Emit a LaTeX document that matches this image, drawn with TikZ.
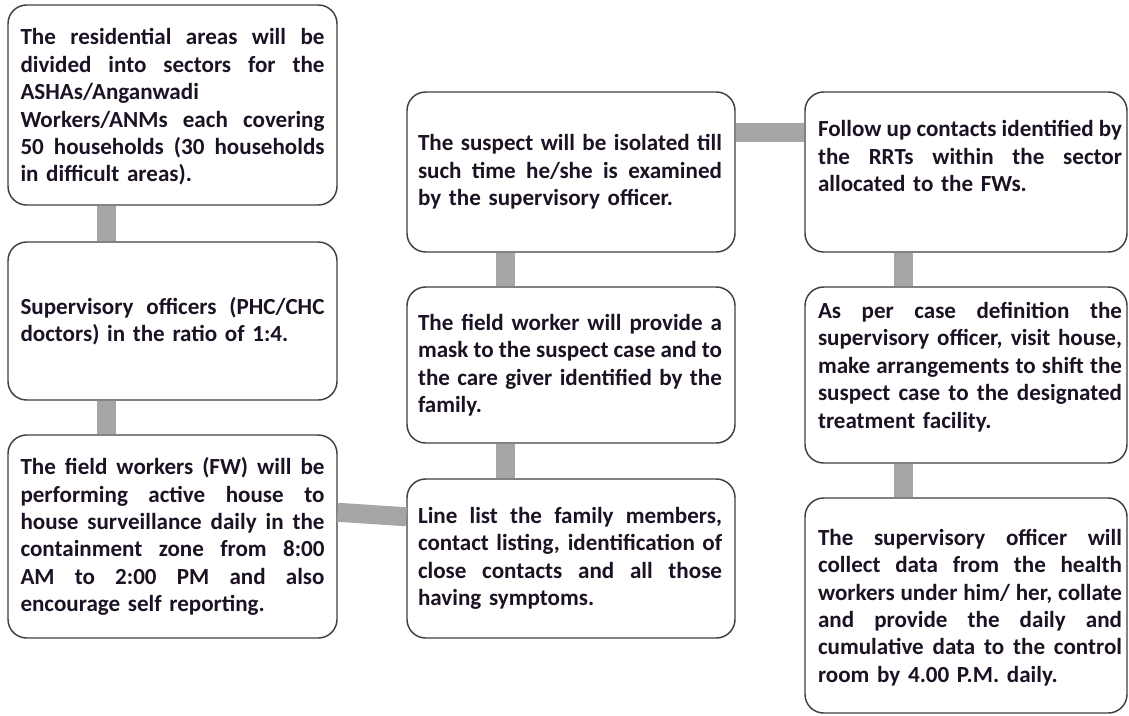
\documentclass[tikz,border=0pt]{standalone}
\usepackage{fontspec}
\setmainfont{Carlito}
\usetikzlibrary{calc}
\definecolor{txt}{RGB}{28,18,36}
\definecolor{edge}{RGB}{64,64,64}
\definecolor{conn}{RGB}{166,166,166}
\newcommand{\J}[1]{\makebox[228pt][s]{\spaceskip=0.226em plus 1fil minus 0.17em\relax #1}}
\tikzset{
  box/.style={draw=edge, line width=1.1pt, rounded corners=14pt, fill=white, inner sep=0pt},
  txtnode/.style={text width=228pt, align=left, inner sep=0pt, text=txt,
    font=\bfseries\fontsize{17.3}{20.55}\selectfont},
  connector/.style={draw=conn, line width=14.25pt}
}
\begin{document}
\begin{tikzpicture}[x=0.75pt,y=-0.75pt]
\useasboundingbox (0,0) rectangle (1129,715);
\fill[white] (0,0) rectangle (1129,715);
% boxes
\node[box, minimum width=246.75pt, minimum height=150pt] (B1) at (172.5,105) {};
\node[box, minimum width=246.75pt, minimum height=118.5pt] (B2) at (172.5,321) {};
\node[box, minimum width=246.75pt, minimum height=152.25pt] (B3) at (172.5,536.5) {};
\node[box, minimum width=246pt, minimum height=120pt] (B4) at (571,172) {};
\node[box, minimum width=246pt, minimum height=117pt] (B5) at (571,365) {};
\node[box, minimum width=246pt, minimum height=119.25pt] (B6) at (571,558.5) {};
\node[box, minimum width=241.5pt, minimum height=120pt] (B7) at (966,172) {};
\node[box, minimum width=241.5pt, minimum height=132pt] (B8) at (966,375) {};
\node[box, minimum width=241.5pt, minimum height=161.25pt] (B9) at (966,605.5) {};
% connectors
\draw[connector] ($(B1.south west)+(99.5,0)$) -- ($(B2.north west)+(99.5,0)$);
\draw[connector] ($(B2.south west)+(99.5,0)$) -- ($(B3.north west)+(99.5,0)$);
\draw[connector] ($(B4.south west)+(99.5,0)$) -- ($(B5.north west)+(99.5,0)$);
\draw[connector] ($(B5.south west)+(99.5,0)$) -- ($(B6.north west)+(99.5,0)$);
\draw[connector] ($(B7.south west)+(99.5,0)$) -- ($(B8.north west)+(99.5,0)$);
\draw[connector] ($(B8.south west)+(99.5,0)$) -- ($(B9.north west)+(99.5,0)$);
\draw[connector] ($(B4.north east)+(0,41.5)$) -- ($(B7.north west)+(0,41.5)$);
\draw[connector] ($(B3.north east)+(0,78)$) -- ($(B6.north west)+(0,38.5)$);
% texts
\node[txtnode] (T1) at ($(B1.center)+(0,2)$) {\J{The residential areas will be}\\\J{divided into sectors for the}\\ASHAs/Anganwadi\\\J{Workers/ANMs each covering}\\\J{50 households (30 households}\\in difficult areas).};
\node[txtnode] (T2) at (B2.center) {\J{Supervisory officers (PHC/CHC}\\doctors) in the ratio of 1:4.};
\node[txtnode] (T3) at (B3.center) {\J{The field workers (FW) will be}\\\J{performing active house to}\\\J{house surveillance daily in the}\\\J{containment zone from 8:00}\\\J{AM to 2:00 PM and also}\\encourage self reporting.};
\node[txtnode] (T4) at ($(B4.center)+(-1,0)$) {\J{The suspect will be isolated till}\\\J{such time he/she is examined}\\by the supervisory officer.};
\node[txtnode] (T5) at ($(B5.center)+(-1,0)$) {\J{The field worker will provide a}\\\J{mask to the suspect case and to}\\\J{the care giver identified by the}\\family.};
\node[txtnode] (T6) at ($(B6.center)+(-1,0)$) {\J{Line list the family members,}\\\J{contact listing, identification of}\\\J{close contacts and all those}\\having symptoms.};
\node[txtnode] (T7) at ($(B7.center)+(4,-16)$) {\J{Follow up contacts identified by}\\\J{the RRTs within the sector}\\allocated to the FWs.};
\node[txtnode] (T8) at ($(B8.center)+(4,-8)$) {\J{As per case definition the}\\\J{supervisory officer, visit house,}\\\J{make arrangements to shift the}\\\J{suspect case to the designated}\\treatment facility.};
\node[txtnode] (T9) at ($(B9.center)+(4,2)$) {\J{The supervisory officer will}\\\J{collect data from the health}\\\J{workers under him/ her, collate}\\\J{and provide the daily and}\\\J{cumulative data to the control}\\room by 4.00 P.M. daily.};
\end{tikzpicture}
\end{document}
